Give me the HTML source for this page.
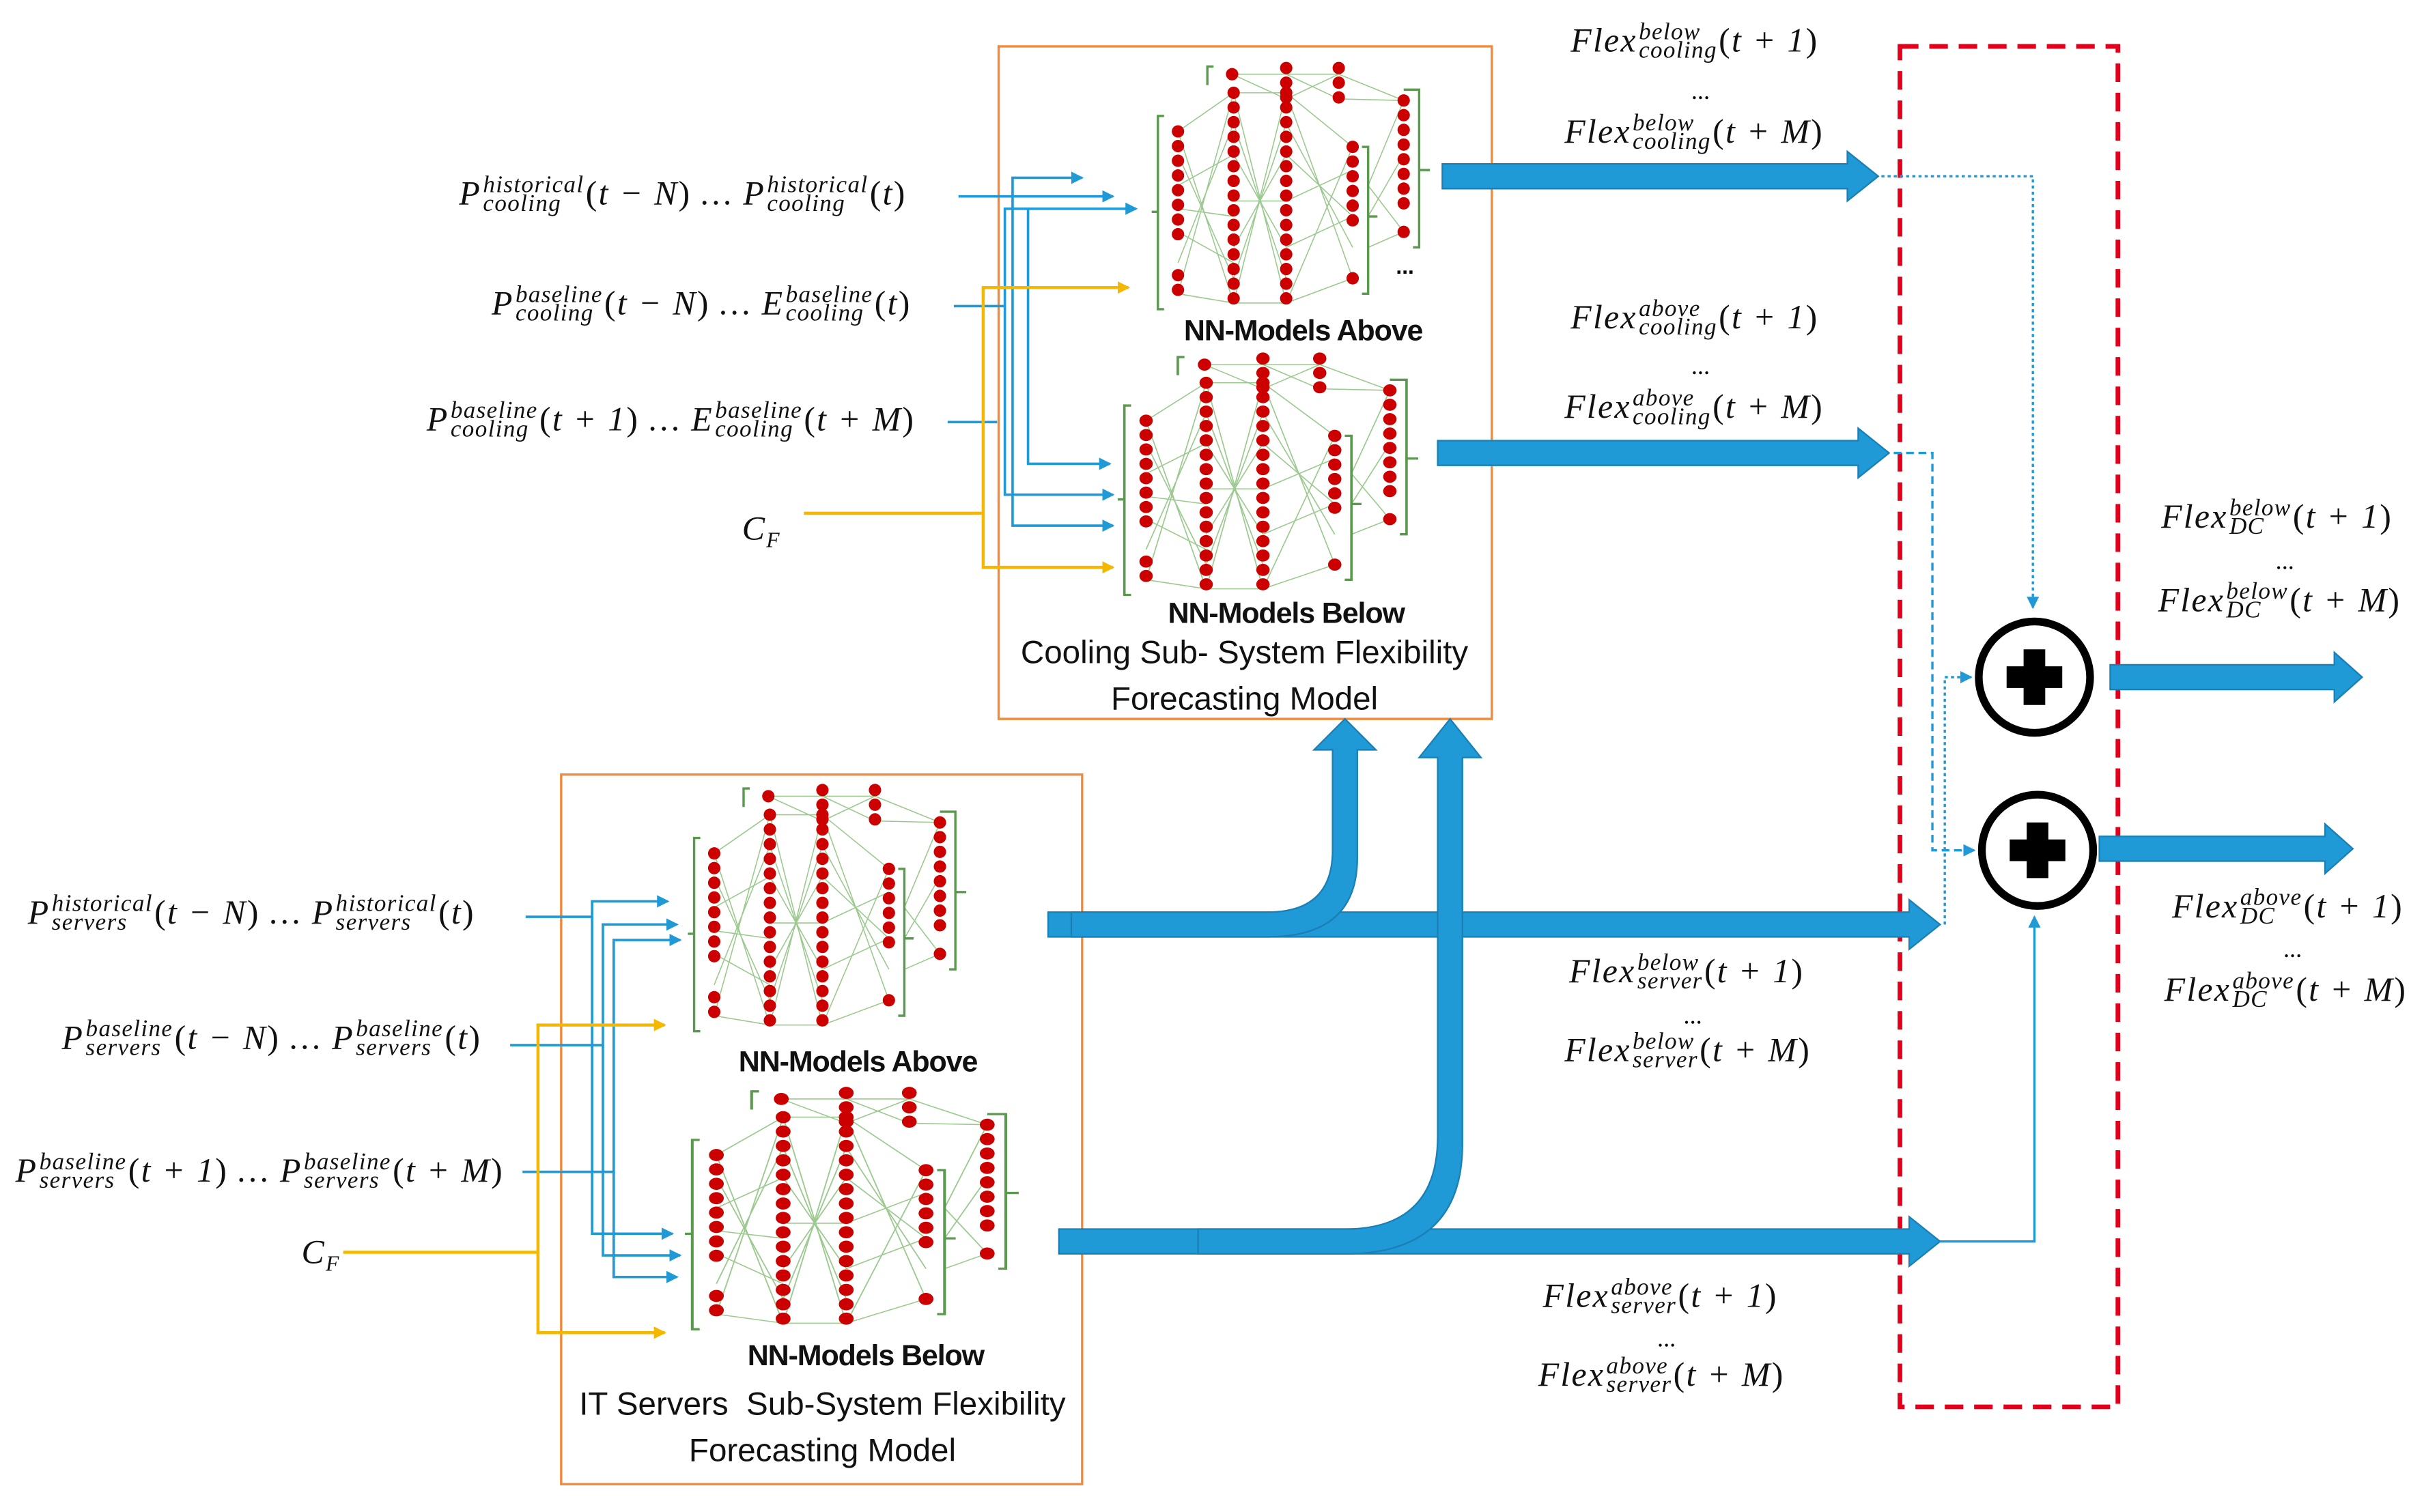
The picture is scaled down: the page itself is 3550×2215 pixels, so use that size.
<!DOCTYPE html>
<html><head><meta charset="utf-8">
<style>
html,body{margin:0;padding:0;background:#fff;}
#wrap{position:absolute;left:0;top:0;width:3550px;height:2215px;overflow:hidden;background:#fff;}
#s{position:absolute;left:0;top:0;width:1568px;height:978px;transform:scale(2.26403,2.26483);transform-origin:0 0;}
.m{position:absolute;font-family:"Liberation Serif",serif;font-style:italic;font-size:22px;letter-spacing:1px;white-space:nowrap;line-height:1;color:#111;transform:translateY(-50%);}
.m .u{font-style:normal;}
.ss{display:inline-flex;flex-direction:column;font-size:15.5px;line-height:0.8;vertical-align:middle;margin:0 1px;position:relative;top:-1px;letter-spacing:0.6px;}
.d{position:absolute;font-family:"Liberation Serif",serif;font-size:16px;line-height:1;transform:translate(-50%,-50%);}
.t{position:absolute;font-family:"Liberation Sans",sans-serif;font-size:21px;white-space:nowrap;transform:translate(-50%,-50%);color:#111;}
.b{font-weight:bold;font-size:19px;letter-spacing:-0.5px;}
</style></head><body>
<div id="wrap"><div id="s">
<svg width="1568" height="978" viewBox="0 0 1568 978" style="position:absolute;left:0;top:0">
<defs>
<marker id="ab" markerWidth="8" markerHeight="8" refX="7" refY="4" orient="auto" markerUnits="userSpaceOnUse"><path d="M0,0 L8,4 L0,8 z" fill="#1f9ad6"/></marker>
<marker id="ay" markerWidth="8" markerHeight="8" refX="7" refY="4" orient="auto" markerUnits="userSpaceOnUse"><path d="M0,0 L8,4 L0,8 z" fill="#f5b800"/></marker>
<g id="net">
 <g stroke="#9cc98f" stroke-width="0.7" fill="none">
  <path d="M17,45 L53,20 M17,45 L53,156 M17,150 L53,20 M17,150 L53,156 M17,80 L53,60 M17,110 L53,130 M17,60 L53,140 M17,130 L53,40 M17,95 L53,100"/>
  <path d="M53,20 L87,156 M53,156 L87,20 M53,20 L87,20 M53,156 L87,156 M53,60 L87,120 M53,120 L87,60 M53,90 L87,90 M53,40 L87,140 M53,140 L87,40"/>
  <path d="M87,20 L130,55 M87,20 L130,140 M87,156 L130,55 M87,156 L130,140 M87,60 L130,100 M87,120 L130,100 M87,90 L130,70 M87,40 L130,120"/>
  <path d="M52,8 L87,8 L121,8 M52,8 L87,24 M87,8 L121,24 M121,8 L163,25 M121,24 L163,25 M87,24 L121,8"/>
  <path d="M140,80 L163,25 M140,80 L163,110 M140,100 L163,60 M140,120 L163,110"/>
 </g>
 <g stroke="#5a9a4e" stroke-width="1.5" fill="none">
  <path d="M8,35 L4,35 L4,160 L8,160 M0,97 L4,97"/>
  <path d="M136,55 L140,55 L140,150 L136,150 M140,100 L146,100"/>
  <path d="M163,18 L173,18 L173,120 L169,120 M173,70 L180,70"/>
  <path d="M40,3 L36,3 L36,15"/>
 </g>
 <g stroke="#cc0000" stroke-width="8" stroke-linecap="round" stroke-dasharray="0 9.5" fill="none">
  <path d="M17,45 L17,120 M17,138 L17,152"/>
  <path d="M53,20 L53,157"/>
  <path d="M87,20 L87,157"/>
  <path d="M130,55 L130,110 M130,140 L130,141"/>
  <path d="M163,25 L163,95 M163,110 L163,111"/>
  <path d="M52,8 L52,9 M87,4 L87,24 M121,4 L121,24"/>
 </g>
</g>
</defs>
<rect x="646" y="30" width="319" height="435" fill="none" stroke="#f08a3c" stroke-width="1.5"/>
<rect x="363" y="501" width="337" height="459" fill="none" stroke="#f08a3c" stroke-width="1.5"/>
<rect x="1229" y="30" width="141" height="880" fill="none" stroke="#e4001b" stroke-width="3" stroke-dasharray="12 7"/>
<use href="#net" transform="translate(745,40)"/>
<use href="#net" transform="translate(723,228) scale(1.08,0.98)"/>
<use href="#net" transform="translate(445,507) scale(1.0,1.0)"/>
<use href="#net" transform="translate(443,703) scale(1.2,0.98)"/>
<text x="903" y="177" font-size="14" font-weight="bold" font-family="Liberation Sans">...</text>
<g stroke="#1f9ad6" stroke-width="1.6" fill="none">
 <path d="M620,127 L655,127 L655,115 L700,115" marker-end="url(#ab)"/>
 <path d="M655,127 L720,127" marker-end="url(#ab)"/>
 <path d="M655,127 L655,340 L720,340" marker-end="url(#ab)"/>
 <path d="M617,198 L650,198 L650,135 L735,135" marker-end="url(#ab)"/>
 <path d="M650,198 L650,320 L720,320" marker-end="url(#ab)"/>
 <path d="M613,273 L645,273 M665,135 L665,300 L718,300" marker-end="url(#ab)"/>
</g>
<g stroke="#f5b800" stroke-width="2" fill="none">
 <path d="M520,332 L636,332 L636,186 L730,186" marker-end="url(#ay)"/>
 <path d="M636,332 L636,367 L720,367" marker-end="url(#ay)"/>
</g>
<g stroke="#1f9ad6" stroke-width="1.6" fill="none">
 <path d="M340,593 L383,593 L383,583 L432,583" marker-end="url(#ab)"/>
 <path d="M383,593 L383,798 L435,798" marker-end="url(#ab)"/>
 <path d="M330,676 L390,676 L390,598 L438,598" marker-end="url(#ab)"/>
 <path d="M390,676 L390,812 L440,812" marker-end="url(#ab)"/>
 <path d="M338,758 L397,758 L397,608 L440,608" marker-end="url(#ab)"/>
 <path d="M397,758 L397,826 L438,826" marker-end="url(#ab)"/>
</g>
<g stroke="#f5b800" stroke-width="2" fill="none">
 <path d="M222,810 L348,810 L348,663 L430,663" marker-end="url(#ay)"/>
 <path d="M348,810 L348,862 L430,862" marker-end="url(#ay)"/>
</g>
<g fill="#1f9ad6" stroke="#1a7fb5" stroke-width="1">
 <path d="M933,106 L1195,106 L1195,98 L1215,114 L1195,130 L1195,122 L933,122 z"/>
 <path d="M930,285 L1202,285 L1202,277 L1222,293 L1202,309 L1202,301 L930,301 z"/>
 <path d="M678,590 L1235,590 L1235,582 L1255,598 L1235,614 L1235,606 L678,606 z"/>
 <path d="M685,795 L1235,795 L1235,787 L1255,803 L1235,819 L1235,811 L685,811 z"/>
 <path d="M1365,430 L1510,430 L1510,422 L1528,438 L1510,454 L1510,446 L1365,446 z"/>
 <path d="M1358,541 L1504,541 L1504,533 L1522,549 L1504,565 L1504,557 L1358,557 z"/>
 <path d="M693,590 L820,590 Q862,590 862,550 L862,485 L850,485 L870,465 L890,485 L878,485 L878,555 Q878,606 820,606 L693,606 z"/>
 <path d="M775,795 L870,795 Q930,795 930,735 L930,490 L918,490 L938,465 L958,490 L946,490 L946,740 Q946,811 870,811 L775,811 z"/>
</g>
<g stroke="#1f9ad6" stroke-width="1.5" fill="none">
 <path d="M1217,114 L1315,114 L1315,393" stroke-dasharray="2 2" marker-end="url(#ab)"/>
 <path d="M1225,293 L1250,293 L1250,550 L1277,550" stroke-dasharray="5 3" marker-end="url(#ab)"/>
 <path d="M1258,598 L1258,438 L1275,438" stroke-dasharray="2 2" marker-end="url(#ab)"/>
 <path d="M1255,803 L1316,803 L1316,593" marker-end="url(#ab)"/>
</g>
<g>
 <circle cx="1316" cy="438" r="36" fill="#fff" stroke="#000" stroke-width="5"/>
 <path d="M1298,431 h11 v-11 h14 v11 h11 v14 h-11 v11 h-14 v-11 h-11 z" fill="#000"/>
 <circle cx="1318" cy="550" r="36" fill="#fff" stroke="#000" stroke-width="5"/>
 <path d="M1300,543 h11 v-11 h14 v11 h11 v14 h-11 v11 h-14 v-11 h-11 z" fill="#000"/>
</g>
</svg>

<div class="m" style="left:297px;top:127px">P<span class="ss"><span>historical</span><span>cooling</span></span><span class="u">(</span>t − N<span class="u">)</span> … P<span class="ss"><span>historical</span><span>cooling</span></span><span class="u">(</span>t<span class="u">)</span></div>
<div class="m" style="left:318px;top:198px">P<span class="ss"><span>baseline</span><span>cooling</span></span><span class="u">(</span>t − N<span class="u">)</span> … E<span class="ss"><span>baseline</span><span>cooling</span></span><span class="u">(</span>t<span class="u">)</span></div>
<div class="m" style="left:276px;top:273px">P<span class="ss"><span>baseline</span><span>cooling</span></span><span class="u">(</span>t + 1<span class="u">)</span> … E<span class="ss"><span>baseline</span><span>cooling</span></span><span class="u">(</span>t + M<span class="u">)</span></div>
<div class="m" style="left:480px;top:342px">C<span style="font-size:14px;position:relative;top:5px">F</span></div>
<div class="m" style="left:18px;top:592px">P<span class="ss"><span>historical</span><span>servers</span></span><span class="u">(</span>t − N<span class="u">)</span> … P<span class="ss"><span>historical</span><span>servers</span></span><span class="u">(</span>t<span class="u">)</span></div>
<div class="m" style="left:40px;top:673px">P<span class="ss"><span>baseline</span><span>servers</span></span><span class="u">(</span>t − N<span class="u">)</span> … P<span class="ss"><span>baseline</span><span>servers</span></span><span class="u">(</span>t<span class="u">)</span></div>
<div class="m" style="left:10px;top:759px">P<span class="ss"><span>baseline</span><span>servers</span></span><span class="u">(</span>t + 1<span class="u">)</span> … P<span class="ss"><span>baseline</span><span>servers</span></span><span class="u">(</span>t + M<span class="u">)</span></div>
<div class="m" style="left:195px;top:810px">C<span style="font-size:14px;position:relative;top:5px">F</span></div>
<div class="m" style="left:1016px;top:28px">Flex<span class="ss"><span>below</span><span>cooling</span></span><span class="u">(</span>t + 1<span class="u">)</span></div>
<div class="d" style="left:1100px;top:60px">...</div>
<div class="m" style="left:1012px;top:87px">Flex<span class="ss"><span>below</span><span>cooling</span></span><span class="u">(</span>t + M<span class="u">)</span></div>
<div class="m" style="left:1016px;top:207px">Flex<span class="ss"><span>above</span><span>cooling</span></span><span class="u">(</span>t + 1<span class="u">)</span></div>
<div class="d" style="left:1100px;top:238px">...</div>
<div class="m" style="left:1012px;top:265px">Flex<span class="ss"><span>above</span><span>cooling</span></span><span class="u">(</span>t + M<span class="u">)</span></div>
<div class="m" style="left:1398px;top:336px">Flex<span class="ss"><span>below</span><span>DC</span></span><span class="u">(</span>t + 1<span class="u">)</span></div>
<div class="d" style="left:1478px;top:364px">...</div>
<div class="m" style="left:1396px;top:390px">Flex<span class="ss"><span>below</span><span>DC</span></span><span class="u">(</span>t + M<span class="u">)</span></div>
<div class="m" style="left:1405px;top:588px">Flex<span class="ss"><span>above</span><span>DC</span></span><span class="u">(</span>t + 1<span class="u">)</span></div>
<div class="d" style="left:1483px;top:615px">...</div>
<div class="m" style="left:1400px;top:642px">Flex<span class="ss"><span>above</span><span>DC</span></span><span class="u">(</span>t + M<span class="u">)</span></div>
<div class="m" style="left:1015px;top:630px">Flex<span class="ss"><span>below</span><span>server</span></span><span class="u">(</span>t + 1<span class="u">)</span></div>
<div class="d" style="left:1095px;top:658px">...</div>
<div class="m" style="left:1012px;top:681px">Flex<span class="ss"><span>below</span><span>server</span></span><span class="u">(</span>t + M<span class="u">)</span></div>
<div class="m" style="left:998px;top:840px">Flex<span class="ss"><span>above</span><span>server</span></span><span class="u">(</span>t + 1<span class="u">)</span></div>
<div class="d" style="left:1078px;top:867px">...</div>
<div class="m" style="left:995px;top:891px">Flex<span class="ss"><span>above</span><span>server</span></span><span class="u">(</span>t + M<span class="u">)</span></div>
<div class="t b" style="left:843px;top:215px">NN-Models Above</div>
<div class="t b" style="left:832px;top:398px">NN-Models Below</div>
<div class="t" style="left:805px;top:423px">Cooling Sub- System Flexibility</div>
<div class="t" style="left:805px;top:453px">Forecasting Model</div>
<div class="t b" style="left:555px;top:688px">NN-Models Above</div>
<div class="t b" style="left:560px;top:878px">NN-Models Below</div>
<div class="t" style="left:532px;top:909px">IT Servers&nbsp; Sub-System Flexibility</div>
<div class="t" style="left:532px;top:939px">Forecasting Model</div>
</div></div>
</body></html>
